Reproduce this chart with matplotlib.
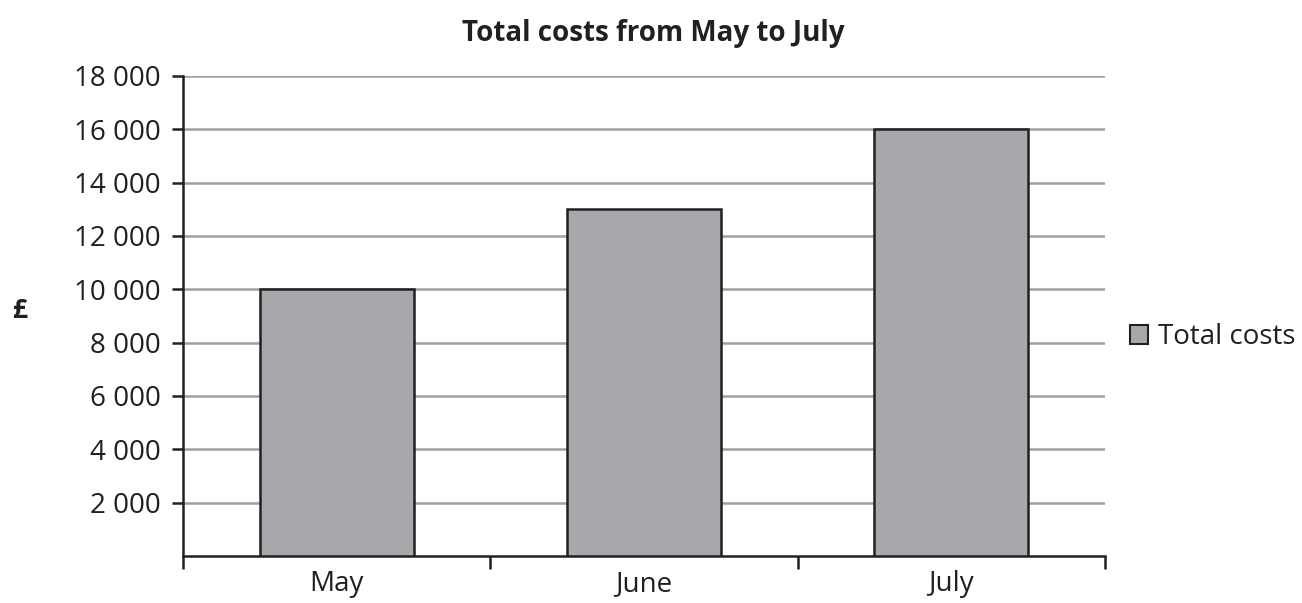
import matplotlib
matplotlib.use("Agg")
import matplotlib.pyplot as plt
from matplotlib.patches import Patch

months = ["May", "June", "July"]
total_costs = [10000, 13000, 16000]
yticks = [2000, 4000, 6000, 8000, 10000, 12000, 14000, 16000, 18000]
ytick_labels = ["2 000", "4 000", "6 000", "8 000", "10 000", "12 000", "14 000", "16 000", "18 000"]

plt.rcParams['font.family'] = ['Open Sans', 'DejaVu Sans']

fig = plt.figure(figsize=(13.02, 6.03), dpi=100)
ax = fig.add_axes([183/1302, 1-556/603, (1105-183)/1302, (556-76)/603])

x = list(range(len(months)))
ax.bar(x, total_costs, width=0.5, color="#a7a8ab", edgecolor="#231f20", linewidth=1.8, zorder=3)

ax.set_xlim(-0.5, 2.5)
ax.set_ylim(0, 18000)
ax.set_yticks(yticks)
ax.set_yticklabels(ytick_labels, fontsize=20, color="#231f20")
ax.set_xticks([-0.5, 0.5, 1.5, 2.5])
ax.set_xticklabels([])
ax.set_xticks(x, minor=True)
ax.set_xticklabels(months, minor=True, fontsize=20, color="#231f20")
ax.tick_params(axis='x', which='minor', length=0, pad=10)
ax.tick_params(axis='x', which='major', length=9, width=1.8, color="#231f20", direction='out')
ax.tick_params(axis='y', length=8, width=1.8, color="#231f20", direction='out', pad=8)

for y in yticks:
    ax.axhline(y, color="#a0a0a0", linewidth=1.8, zorder=1)

for s in ["top", "right"]:
    ax.spines[s].set_visible(False)
for s in ["left", "bottom"]:
    ax.spines[s].set_linewidth(1.8)
    ax.spines[s].set_color("#231f20")

fig.text(653/1302, 1-33/603, "Total costs from May to July", ha="center", va="center",
         fontsize=20, fontweight="bold", color="#231f20")
fig.text(20/1302, 1-310/603, "£", ha="center", va="center", fontsize=19, fontweight="bold", color="#231f20")

handle = Patch(facecolor="#a7a8ab", edgecolor="#231f20", linewidth=1.5, label="Total costs")
fig.legend(handles=[handle], loc="center left", bbox_to_anchor=(1130/1302, 1-337/603),
           frameon=False, fontsize=20, handlelength=0.65, handleheight=0.65, handletextpad=0.35,
           borderpad=0, borderaxespad=0, labelcolor="#231f20")

fig.savefig("out.png", dpi=100)
